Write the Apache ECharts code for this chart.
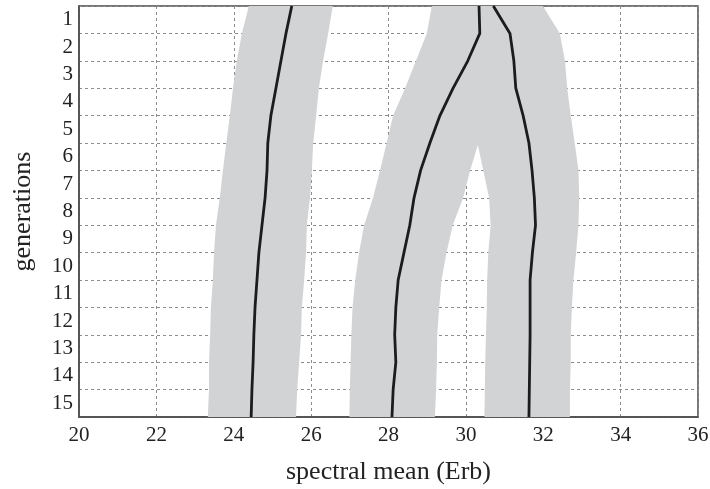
<!DOCTYPE html>
<html>
<head>
<meta charset="utf-8">
<script src="https://cdn.jsdelivr.net/npm/echarts@6/dist/echarts.min.js"></script>
<style>
  html, body { margin: 0; padding: 0; background: #fff; }
  #chart { width: 710px; height: 489px; }
</style>
</head>
<body>
<div id="chart"></div>
<script>
// generation labels (rows, top to bottom)
const genLabels = ['1','2','3','4','5','6','7','8','9','10','11','12','13','14','15'];
const xTicks = [20, 22, 24, 26, 28, 30, 32, 34, 36];

// sample positions on the generation scale (row boundaries)
const lineGen = [0.5,1.5,2.5,3.5,4.5,5.5,6.5,7.5,8.5,9.5,10.5,11.5,12.5,13.5,14.5,15.5];
const bandGen = [0.5,1.5,2.5,3.5,4.5,5.57,6.5,7.5,8.5,9.5,10.5,11.5,12.5,13.5,14.5,15.5];

// spectral mean of each lineage (Erb)
const lineA = [25.50,25.35,25.22,25.09,24.96,24.88,24.86,24.81,24.73,24.65,24.60,24.55,24.52,24.50,24.47,24.45];
const lineB = [30.34,30.36,30.05,29.67,29.33,29.07,28.83,28.66,28.55,28.40,28.25,28.19,28.16,28.19,28.12,28.09];
const lineC = [30.71,31.14,31.24,31.29,31.48,31.63,31.71,31.77,31.80,31.72,31.66,31.66,31.66,31.65,31.64,31.63];

// spread bands (left / right edges, Erb)
const bandALeft  = [24.39,24.21,24.08,23.98,23.90,23.80,23.72,23.64,23.54,23.49,23.46,23.41,23.39,23.36,23.36,23.33];
const bandARight = [26.56,26.44,26.31,26.20,26.13,26.05,26.02,25.97,25.89,25.87,25.82,25.76,25.74,25.69,25.64,25.61];
const bandBLeft  = [29.12,28.99,28.71,28.43,28.12,27.94,27.78,27.60,27.37,27.24,27.14,27.07,27.04,27.02,27.00,26.99];
const bandBRight = [30.70,31.14,31.24,31.29,31.48,30.31,30.11,29.93,29.66,29.50,29.37,29.31,29.26,29.25,29.23,29.20];
const bandCLeft  = [30.34,30.36,30.05,29.67,29.33,30.31,30.45,30.60,30.64,30.58,30.55,30.54,30.52,30.50,30.49,30.48];
const bandCRight = [31.99,32.43,32.56,32.62,32.71,32.82,32.91,32.93,32.91,32.85,32.78,32.74,32.71,32.71,32.69,32.69];

const serif = 'Liberation Serif';
const bandColor = '#d2d3d5';

function bandSeries(left, right) {
  return {
    type: 'custom',
    xAxisIndex: 0,
    yAxisIndex: 1,
    silent: true,
    z: 1,
    data: [[left[0], bandGen[0]]],
    renderItem: function (params, api) {
      const pts = [];
      for (let i = 0; i < bandGen.length; i++) pts.push(api.coord([left[i], bandGen[i]]));
      for (let i = bandGen.length - 1; i >= 0; i--) pts.push(api.coord([right[i], bandGen[i]]));
      return { type: 'polygon', shape: { points: pts }, style: { fill: bandColor } };
    }
  };
}

function lineSeries(vals) {
  return {
    type: 'line',
    xAxisIndex: 0,
    yAxisIndex: 1,
    symbol: 'none',
    silent: true,
    z: 3,
    data: vals.map((v, i) => [v, lineGen[i]]),
    lineStyle: { color: '#1c1c1c', width: 2.8 }
  };
}

const chart = echarts.init(document.getElementById('chart'));
chart.setOption({
  animation: false,
  backgroundColor: '#fff',
  grid: {
    left: 79, right: 12, top: 6, bottom: 72,
    outerBoundsMode: 'none',
    containLabel: false,
    show: true, borderColor: '#4a4a4a', borderWidth: 1.5
  },
  xAxis: {
    type: 'value',
    min: 20, max: 36, interval: 2,
    name: 'spectral mean (Erb)',
    nameLocation: 'middle',
    nameGap: 42,
    nameTextStyle: { fontFamily: serif, fontSize: 26, color: '#222' },
    axisLine: { show: true, lineStyle: { color: '#4a4a4a', width: 1.5 } },
    axisTick: { show: false },
    axisLabel: {
      fontFamily: serif, fontSize: 21, color: '#222', margin: 8,
      formatter: v => xTicks.includes(v) ? String(v) : ''
    },
    splitLine: { show: true, lineStyle: { color: '#8c8c8c', width: 1, type: [3, 3] } }
  },
  yAxis: [
    {
      type: 'category',
      data: genLabels,
      inverse: true,
      boundaryGap: true,
      name: 'generations',
      nameLocation: 'middle',
      nameGap: 43,
      nameRotate: 90,
      nameTextStyle: { fontFamily: serif, fontSize: 26, color: '#222' },
      axisLine: { show: true, lineStyle: { color: '#4a4a4a', width: 1.5 } },
      axisTick: { show: false },
      axisLabel: { interval: 0, fontFamily: serif, fontSize: 21, color: '#222', margin: 6 },
      splitLine: { show: true, interval: 0, lineStyle: { color: '#8c8c8c', width: 1, type: [3, 3] } }
    },
    {
      type: 'value',
      min: 0.5, max: 15.5,
      inverse: true,
      show: false
    }
  ],
  series: [
    bandSeries(bandALeft, bandARight),
    bandSeries(bandBLeft, bandBRight),
    bandSeries(bandCLeft, bandCRight),
    lineSeries(lineA),
    lineSeries(lineB),
    lineSeries(lineC)
  ]
});
</script>
</body>
</html>
